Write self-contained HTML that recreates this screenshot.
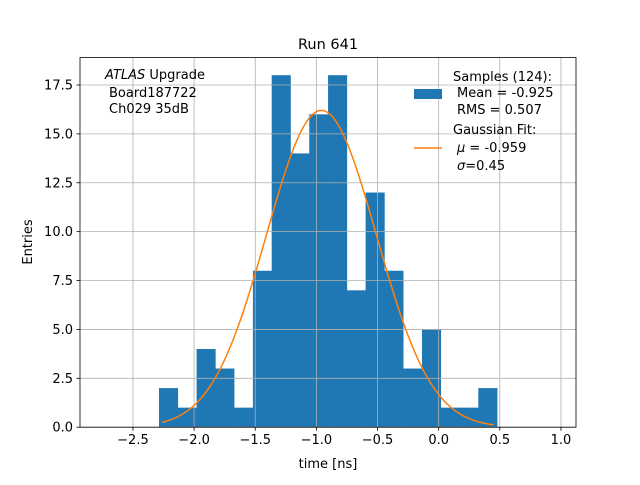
<!DOCTYPE html>
<html><head><meta charset="utf-8"><style>
body{margin:0;background:#fff}
svg text{font-family:"DejaVu Sans","Liberation Sans",sans-serif;fill:#000}
</style></head><body>
<svg id="chart" width="640" height="480" xmlns="http://www.w3.org/2000/svg">
<rect width="640" height="480" fill="#fff"/>
<g id="bars"></g>
<g id="grid"></g>
<g id="fit"></g>
<rect x="80" y="57.6" width="496" height="369.6" fill="none" stroke="#000" stroke-width="0.8"/>
<g id="ticks"></g>
<text x="328" y="49" font-size="14.5" text-anchor="middle">Run 641</text>
<text x="328" y="468" font-size="13" text-anchor="middle">time [ns]</text>
<text transform="translate(32,242) rotate(-90)" font-size="13" text-anchor="middle">Entries</text>
<g font-size="13">
<text x="105" y="79"><tspan font-style="italic">ATLAS</tspan> Upgrade</text>
<text x="109" y="97">Board187722</text>
<text x="109" y="113">Ch029 35dB</text>
</g>
<g font-size="13">
<rect x="414" y="89" width="28" height="10" fill="#1f77b4"/>
<text x="453" y="81">Samples (124):</text>
<text x="457" y="97">Mean = -0.925</text>
<text x="457" y="114">RMS = 0.507</text>
<line x1="414" y1="148" x2="442" y2="148" stroke="#ff7f0e" stroke-width="1.5"/>
<text x="453" y="134">Gaussian Fit:</text>
<text x="457" y="152"><tspan font-style="italic">μ</tspan> = -0.959</text>
<text x="457" y="170"><tspan font-style="italic">σ</tspan>=0.45</text>
</g>
</svg>
<script>
const counts=[2,1,4,3,1,8,18,14,16,18,7,12,8,3,5,1,1,2];
const binStart=-2.287, binWidth=0.1536;
const fitMu=-0.959, fitSigma=0.45, fitAmp=16.2, fitRange=[-2.26,0.45];
const xTicks=[-2.5,-2.0,-1.5,-1.0,-0.5,0.0,0.5,1.0];
const yTicks=[0,2.5,5,7.5,10,12.5,15,17.5];
const xmin=-2.933,xmax=1.123,ymin=0,ymax=18.9;
const L=80,R=576,T=57.6,B=427.2;
const sx=v=>L+(v-xmin)/(xmax-xmin)*(R-L);
const sy=v=>B-(v-ymin)/(ymax-ymin)*(B-T);
const NS="http://www.w3.org/2000/svg";
function mk(t,a,p){const e=document.createElementNS(NS,t);for(const k in a)e.setAttribute(k,a[k]);p.appendChild(e);return e;}
const grid=document.getElementById('grid'),ticks=document.getElementById('ticks');
xTicks.forEach(v=>{const x=sx(v);
 const g=mk('line',{x1:x,x2:x,y1:T,y2:B,stroke:'#b0b0b0','stroke-width':0.8},grid);
 
 
 const t=mk('line',{x1:x,x2:x,y1:B,y2:B+3.5,stroke:'#000','stroke-width':0.8},ticks);
 
 
 const l=mk('text',{x:x,y:B+17,'font-size':13,'text-anchor':'middle'},ticks);
 l.textContent=(v<0?'−':'')+Math.abs(v).toFixed(1);
 
 });
yTicks.forEach(v=>{const y=sy(v);
 const g=mk('line',{x1:L,x2:R,y1:y,y2:y,stroke:'#b0b0b0','stroke-width':0.8},grid);
 
 
 const t=mk('line',{x1:L-3.5,x2:L,y1:y,y2:y,stroke:'#000','stroke-width':0.8},ticks);
 
 
 const l=mk('text',{x:L-7,y:y+4.5,'font-size':13,'text-anchor':'end'},ticks);
 l.textContent=v.toFixed(1);
 
 });
const bars=document.getElementById('bars');
counts.forEach((c,i)=>{const x0=sx(binStart+i*binWidth),x1=sx(binStart+(i+1)*binWidth);
 const r=mk('rect',{x:x0,y:sy(c),width:x1-x0+0.3,height:sy(0)-sy(c),fill:'#1f77b4'},bars);
 
 });
const pts=[];for(let i=0;i<=200;i++){const x=fitRange[0]+(fitRange[1]-fitRange[0])*i/200;
 const y=fitAmp*Math.exp(-0.5*((x-fitMu)/fitSigma)**2);pts.push(sx(x).toFixed(2)+','+sy(y).toFixed(2));}
const p=mk('polyline',{points:pts.join(' '),fill:'none',stroke:'#ff7f0e','stroke-width':1.5},document.getElementById('fit'));


</script>
</body></html>
